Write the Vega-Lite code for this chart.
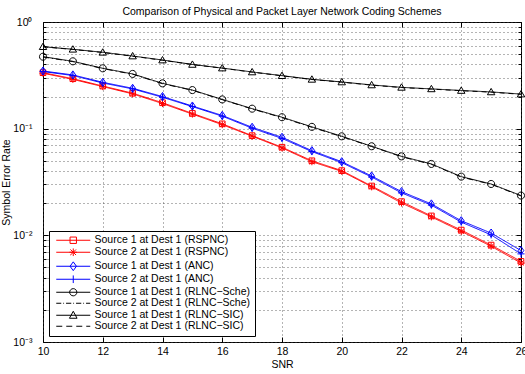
{
  "$schema": "https://vega.github.io/schema/vega-lite/v6.json",
  "width": 478,
  "height": 320,
  "autosize": {"type": "none"},
  "padding": {"left": 43, "top": 22, "right": 4, "bottom": 32},
  "title": {"text": "Comparison of Physical and Packet Layer Network Coding Schemes", "fontSize": 10.5, "fontWeight": "normal", "color": "black", "offset": 0, "font": "Liberation Sans"},
  "config": {
    "font": "Liberation Sans",
    "view": {"stroke": "black", "strokeWidth": 1},
    "axis": {"domainColor": "black", "tickColor": "black", "labelColor": "black", "titleColor": "black", "labelFontSize": 10.5, "titleFontSize": 10.5, "titleFontWeight": "normal", "gridColor": "#444", "gridDash": [1, 3], "gridOpacity": 0.8, "domain": false}
  },
  "datasets": {
    "ser": [
      {"SNR": 10, "series": "Source 1 at Dest 1 (RSPNC)", "SER": 0.335},
      {"SNR": 11, "series": "Source 1 at Dest 1 (RSPNC)", "SER": 0.294},
      {"SNR": 12, "series": "Source 1 at Dest 1 (RSPNC)", "SER": 0.251},
      {"SNR": 13, "series": "Source 1 at Dest 1 (RSPNC)", "SER": 0.215},
      {"SNR": 14, "series": "Source 1 at Dest 1 (RSPNC)", "SER": 0.175},
      {"SNR": 15, "series": "Source 1 at Dest 1 (RSPNC)", "SER": 0.139},
      {"SNR": 16, "series": "Source 1 at Dest 1 (RSPNC)", "SER": 0.111},
      {"SNR": 17, "series": "Source 1 at Dest 1 (RSPNC)", "SER": 0.086},
      {"SNR": 18, "series": "Source 1 at Dest 1 (RSPNC)", "SER": 0.067},
      {"SNR": 19, "series": "Source 1 at Dest 1 (RSPNC)", "SER": 0.05},
      {"SNR": 20, "series": "Source 1 at Dest 1 (RSPNC)", "SER": 0.0404},
      {"SNR": 21, "series": "Source 1 at Dest 1 (RSPNC)", "SER": 0.029},
      {"SNR": 22, "series": "Source 1 at Dest 1 (RSPNC)", "SER": 0.0207},
      {"SNR": 23, "series": "Source 1 at Dest 1 (RSPNC)", "SER": 0.0152},
      {"SNR": 24, "series": "Source 1 at Dest 1 (RSPNC)", "SER": 0.0112},
      {"SNR": 25, "series": "Source 1 at Dest 1 (RSPNC)", "SER": 0.0081},
      {"SNR": 26, "series": "Source 1 at Dest 1 (RSPNC)", "SER": 0.0057},
      {"SNR": 10, "series": "Source 2 at Dest 1 (RSPNC)", "SER": 0.331},
      {"SNR": 11, "series": "Source 2 at Dest 1 (RSPNC)", "SER": 0.29},
      {"SNR": 12, "series": "Source 2 at Dest 1 (RSPNC)", "SER": 0.248},
      {"SNR": 13, "series": "Source 2 at Dest 1 (RSPNC)", "SER": 0.212},
      {"SNR": 14, "series": "Source 2 at Dest 1 (RSPNC)", "SER": 0.172},
      {"SNR": 15, "series": "Source 2 at Dest 1 (RSPNC)", "SER": 0.137},
      {"SNR": 16, "series": "Source 2 at Dest 1 (RSPNC)", "SER": 0.109},
      {"SNR": 17, "series": "Source 2 at Dest 1 (RSPNC)", "SER": 0.085},
      {"SNR": 18, "series": "Source 2 at Dest 1 (RSPNC)", "SER": 0.066},
      {"SNR": 19, "series": "Source 2 at Dest 1 (RSPNC)", "SER": 0.049},
      {"SNR": 20, "series": "Source 2 at Dest 1 (RSPNC)", "SER": 0.0398},
      {"SNR": 21, "series": "Source 2 at Dest 1 (RSPNC)", "SER": 0.0285},
      {"SNR": 22, "series": "Source 2 at Dest 1 (RSPNC)", "SER": 0.0201},
      {"SNR": 23, "series": "Source 2 at Dest 1 (RSPNC)", "SER": 0.0149},
      {"SNR": 24, "series": "Source 2 at Dest 1 (RSPNC)", "SER": 0.0109},
      {"SNR": 25, "series": "Source 2 at Dest 1 (RSPNC)", "SER": 0.0079},
      {"SNR": 26, "series": "Source 2 at Dest 1 (RSPNC)", "SER": 0.0055},
      {"SNR": 10, "series": "Source 1 at Dest 1 (ANC)", "SER": 0.347},
      {"SNR": 11, "series": "Source 1 at Dest 1 (ANC)", "SER": 0.319},
      {"SNR": 12, "series": "Source 1 at Dest 1 (ANC)", "SER": 0.272},
      {"SNR": 13, "series": "Source 1 at Dest 1 (ANC)", "SER": 0.239},
      {"SNR": 14, "series": "Source 1 at Dest 1 (ANC)", "SER": 0.2},
      {"SNR": 15, "series": "Source 1 at Dest 1 (ANC)", "SER": 0.163},
      {"SNR": 16, "series": "Source 1 at Dest 1 (ANC)", "SER": 0.133},
      {"SNR": 17, "series": "Source 1 at Dest 1 (ANC)", "SER": 0.103},
      {"SNR": 18, "series": "Source 1 at Dest 1 (ANC)", "SER": 0.083},
      {"SNR": 19, "series": "Source 1 at Dest 1 (ANC)", "SER": 0.0622},
      {"SNR": 20, "series": "Source 1 at Dest 1 (ANC)", "SER": 0.049},
      {"SNR": 21, "series": "Source 1 at Dest 1 (ANC)", "SER": 0.036},
      {"SNR": 22, "series": "Source 1 at Dest 1 (ANC)", "SER": 0.0257},
      {"SNR": 23, "series": "Source 1 at Dest 1 (ANC)", "SER": 0.0197},
      {"SNR": 24, "series": "Source 1 at Dest 1 (ANC)", "SER": 0.0137},
      {"SNR": 25, "series": "Source 1 at Dest 1 (ANC)", "SER": 0.0105},
      {"SNR": 26, "series": "Source 1 at Dest 1 (ANC)", "SER": 0.0072},
      {"SNR": 10, "series": "Source 2 at Dest 1 (ANC)", "SER": 0.343},
      {"SNR": 11, "series": "Source 2 at Dest 1 (ANC)", "SER": 0.315},
      {"SNR": 12, "series": "Source 2 at Dest 1 (ANC)", "SER": 0.268},
      {"SNR": 13, "series": "Source 2 at Dest 1 (ANC)", "SER": 0.236},
      {"SNR": 14, "series": "Source 2 at Dest 1 (ANC)", "SER": 0.197},
      {"SNR": 15, "series": "Source 2 at Dest 1 (ANC)", "SER": 0.161},
      {"SNR": 16, "series": "Source 2 at Dest 1 (ANC)", "SER": 0.131},
      {"SNR": 17, "series": "Source 2 at Dest 1 (ANC)", "SER": 0.101},
      {"SNR": 18, "series": "Source 2 at Dest 1 (ANC)", "SER": 0.081},
      {"SNR": 19, "series": "Source 2 at Dest 1 (ANC)", "SER": 0.061},
      {"SNR": 20, "series": "Source 2 at Dest 1 (ANC)", "SER": 0.048},
      {"SNR": 21, "series": "Source 2 at Dest 1 (ANC)", "SER": 0.0352},
      {"SNR": 22, "series": "Source 2 at Dest 1 (ANC)", "SER": 0.025},
      {"SNR": 23, "series": "Source 2 at Dest 1 (ANC)", "SER": 0.0192},
      {"SNR": 24, "series": "Source 2 at Dest 1 (ANC)", "SER": 0.0133},
      {"SNR": 25, "series": "Source 2 at Dest 1 (ANC)", "SER": 0.0101},
      {"SNR": 26, "series": "Source 2 at Dest 1 (ANC)", "SER": 0.0067},
      {"SNR": 10, "series": "Source 1 at Dest 1 (RLNC−Sche)", "SER": 0.473},
      {"SNR": 11, "series": "Source 1 at Dest 1 (RLNC−Sche)", "SER": 0.428},
      {"SNR": 12, "series": "Source 1 at Dest 1 (RLNC−Sche)", "SER": 0.368},
      {"SNR": 13, "series": "Source 1 at Dest 1 (RLNC−Sche)", "SER": 0.326},
      {"SNR": 14, "series": "Source 1 at Dest 1 (RLNC−Sche)", "SER": 0.266},
      {"SNR": 15, "series": "Source 1 at Dest 1 (RLNC−Sche)", "SER": 0.23},
      {"SNR": 16, "series": "Source 1 at Dest 1 (RLNC−Sche)", "SER": 0.188},
      {"SNR": 17, "series": "Source 1 at Dest 1 (RLNC−Sche)", "SER": 0.154},
      {"SNR": 18, "series": "Source 1 at Dest 1 (RLNC−Sche)", "SER": 0.128},
      {"SNR": 19, "series": "Source 1 at Dest 1 (RLNC−Sche)", "SER": 0.104},
      {"SNR": 20, "series": "Source 1 at Dest 1 (RLNC−Sche)", "SER": 0.0848},
      {"SNR": 21, "series": "Source 1 at Dest 1 (RLNC−Sche)", "SER": 0.0684},
      {"SNR": 22, "series": "Source 1 at Dest 1 (RLNC−Sche)", "SER": 0.055},
      {"SNR": 23, "series": "Source 1 at Dest 1 (RLNC−Sche)", "SER": 0.0467},
      {"SNR": 24, "series": "Source 1 at Dest 1 (RLNC−Sche)", "SER": 0.0355},
      {"SNR": 25, "series": "Source 1 at Dest 1 (RLNC−Sche)", "SER": 0.0303},
      {"SNR": 26, "series": "Source 1 at Dest 1 (RLNC−Sche)", "SER": 0.0236},
      {"SNR": 10, "series": "Source 2 at Dest 1 (RLNC−Sche)", "SER": 0.47},
      {"SNR": 11, "series": "Source 2 at Dest 1 (RLNC−Sche)", "SER": 0.425},
      {"SNR": 12, "series": "Source 2 at Dest 1 (RLNC−Sche)", "SER": 0.366},
      {"SNR": 13, "series": "Source 2 at Dest 1 (RLNC−Sche)", "SER": 0.324},
      {"SNR": 14, "series": "Source 2 at Dest 1 (RLNC−Sche)", "SER": 0.264},
      {"SNR": 15, "series": "Source 2 at Dest 1 (RLNC−Sche)", "SER": 0.229},
      {"SNR": 16, "series": "Source 2 at Dest 1 (RLNC−Sche)", "SER": 0.187},
      {"SNR": 17, "series": "Source 2 at Dest 1 (RLNC−Sche)", "SER": 0.153},
      {"SNR": 18, "series": "Source 2 at Dest 1 (RLNC−Sche)", "SER": 0.127},
      {"SNR": 19, "series": "Source 2 at Dest 1 (RLNC−Sche)", "SER": 0.103},
      {"SNR": 20, "series": "Source 2 at Dest 1 (RLNC−Sche)", "SER": 0.0842},
      {"SNR": 21, "series": "Source 2 at Dest 1 (RLNC−Sche)", "SER": 0.068},
      {"SNR": 22, "series": "Source 2 at Dest 1 (RLNC−Sche)", "SER": 0.0546},
      {"SNR": 23, "series": "Source 2 at Dest 1 (RLNC−Sche)", "SER": 0.0463},
      {"SNR": 24, "series": "Source 2 at Dest 1 (RLNC−Sche)", "SER": 0.0352},
      {"SNR": 25, "series": "Source 2 at Dest 1 (RLNC−Sche)", "SER": 0.0301},
      {"SNR": 26, "series": "Source 2 at Dest 1 (RLNC−Sche)", "SER": 0.0234},
      {"SNR": 10, "series": "Source 1 at Dest 1 (RLNC−SIC)", "SER": 0.587},
      {"SNR": 11, "series": "Source 1 at Dest 1 (RLNC−SIC)", "SER": 0.555},
      {"SNR": 12, "series": "Source 1 at Dest 1 (RLNC−SIC)", "SER": 0.52},
      {"SNR": 13, "series": "Source 1 at Dest 1 (RLNC−SIC)", "SER": 0.48},
      {"SNR": 14, "series": "Source 1 at Dest 1 (RLNC−SIC)", "SER": 0.44},
      {"SNR": 15, "series": "Source 1 at Dest 1 (RLNC−SIC)", "SER": 0.4},
      {"SNR": 16, "series": "Source 1 at Dest 1 (RLNC−SIC)", "SER": 0.37},
      {"SNR": 17, "series": "Source 1 at Dest 1 (RLNC−SIC)", "SER": 0.34},
      {"SNR": 18, "series": "Source 1 at Dest 1 (RLNC−SIC)", "SER": 0.314},
      {"SNR": 19, "series": "Source 1 at Dest 1 (RLNC−SIC)", "SER": 0.29},
      {"SNR": 20, "series": "Source 1 at Dest 1 (RLNC−SIC)", "SER": 0.274},
      {"SNR": 21, "series": "Source 1 at Dest 1 (RLNC−SIC)", "SER": 0.257},
      {"SNR": 22, "series": "Source 1 at Dest 1 (RLNC−SIC)", "SER": 0.244},
      {"SNR": 23, "series": "Source 1 at Dest 1 (RLNC−SIC)", "SER": 0.236},
      {"SNR": 24, "series": "Source 1 at Dest 1 (RLNC−SIC)", "SER": 0.228},
      {"SNR": 25, "series": "Source 1 at Dest 1 (RLNC−SIC)", "SER": 0.221},
      {"SNR": 26, "series": "Source 1 at Dest 1 (RLNC−SIC)", "SER": 0.211},
      {"SNR": 10, "series": "Source 2 at Dest 1 (RLNC−SIC)", "SER": 0.585},
      {"SNR": 11, "series": "Source 2 at Dest 1 (RLNC−SIC)", "SER": 0.553},
      {"SNR": 12, "series": "Source 2 at Dest 1 (RLNC−SIC)", "SER": 0.518},
      {"SNR": 13, "series": "Source 2 at Dest 1 (RLNC−SIC)", "SER": 0.478},
      {"SNR": 14, "series": "Source 2 at Dest 1 (RLNC−SIC)", "SER": 0.438},
      {"SNR": 15, "series": "Source 2 at Dest 1 (RLNC−SIC)", "SER": 0.399},
      {"SNR": 16, "series": "Source 2 at Dest 1 (RLNC−SIC)", "SER": 0.369},
      {"SNR": 17, "series": "Source 2 at Dest 1 (RLNC−SIC)", "SER": 0.339},
      {"SNR": 18, "series": "Source 2 at Dest 1 (RLNC−SIC)", "SER": 0.313},
      {"SNR": 19, "series": "Source 2 at Dest 1 (RLNC−SIC)", "SER": 0.289},
      {"SNR": 20, "series": "Source 2 at Dest 1 (RLNC−SIC)", "SER": 0.273},
      {"SNR": 21, "series": "Source 2 at Dest 1 (RLNC−SIC)", "SER": 0.256},
      {"SNR": 22, "series": "Source 2 at Dest 1 (RLNC−SIC)", "SER": 0.243},
      {"SNR": 23, "series": "Source 2 at Dest 1 (RLNC−SIC)", "SER": 0.235},
      {"SNR": 24, "series": "Source 2 at Dest 1 (RLNC−SIC)", "SER": 0.227},
      {"SNR": 25, "series": "Source 2 at Dest 1 (RLNC−SIC)", "SER": 0.22},
      {"SNR": 26, "series": "Source 2 at Dest 1 (RLNC−SIC)", "SER": 0.21}
    ]
  },
  "data": {"name": "ser"},
  "resolve": {"scale": {"shape": "independent", "color": "independent"}, "axis": {"x": "independent", "y": "independent"}},
  "layer": [
    {
      "mark": {"type": "line", "strokeWidth": 1, "clip": true},
      "encoding": {
        "x": {"field": "SNR", "type": "quantitative", "scale": {"domain": [10, 26], "nice": false, "zero": false},
          "axis": {"orient": "bottom", "values": [10, 12, 14, 16, 18, 20, 22, 24, 26], "format": "d", "title": "SNR", "titlePadding": 3, "labelPadding": 9, "tickSize": -5, "grid": true, "labelFlush": false}},
        "y": {"field": "SER", "type": "quantitative", "scale": {"type": "log", "domain": [0.001, 1], "nice": false},
          "axis": {"orient": "left", "title": "Symbol Error Rate", "titlePadding": 1, "labelPadding": 16, "grid": true, "labelFlush": false,
            "values": [0.001, 0.002, 0.003, 0.004, 0.005, 0.006, 0.007, 0.008, 0.009, 0.01, 0.02, 0.03, 0.04, 0.05, 0.06, 0.07, 0.08, 0.09, 0.1, 0.2, 0.3, 0.4, 0.5, 0.6, 0.7, 0.8, 0.9, 1],
            "labelExpr": "datum.value == 1 ? '10⁰' : datum.value == 0.1 ? '10⁻¹' : datum.value == 0.01 ? '10⁻²' : datum.value == 0.001 ? '10⁻³' : ''",
            "tickSize": {"condition": {"test": "datum.value == 1 || datum.value == 0.1 || datum.value == 0.01 || datum.value == 0.001", "value": -5}, "value": -3}}},
        "color": {"field": "series", "type": "nominal", "legend": null,
          "scale": {"domain": ["Source 1 at Dest 1 (RSPNC)", "Source 2 at Dest 1 (RSPNC)", "Source 1 at Dest 1 (ANC)", "Source 2 at Dest 1 (ANC)", "Source 1 at Dest 1 (RLNC−Sche)", "Source 2 at Dest 1 (RLNC−Sche)", "Source 1 at Dest 1 (RLNC−SIC)", "Source 2 at Dest 1 (RLNC−SIC)"],
            "range": ["#ff0000", "#ff0000", "#0000ff", "#0000ff", "#000000", "#000000", "#000000", "#000000"]}},
        "strokeDash": {"field": "series", "type": "nominal", "legend": null,
          "scale": {"domain": ["Source 1 at Dest 1 (RSPNC)", "Source 2 at Dest 1 (RSPNC)", "Source 1 at Dest 1 (ANC)", "Source 2 at Dest 1 (ANC)", "Source 1 at Dest 1 (RLNC−Sche)", "Source 2 at Dest 1 (RLNC−Sche)", "Source 1 at Dest 1 (RLNC−SIC)", "Source 2 at Dest 1 (RLNC−SIC)"],
            "range": [[1, 0], [1, 0], [1, 0], [1, 0], [1, 0], [6, 3, 1, 3], [1, 0], [5, 4]]}},
        "order": {"field": "SNR"}
      }
    },
    {
      "transform": [{"filter": "datum.series != 'Source 2 at Dest 1 (RLNC−Sche)' && datum.series != 'Source 2 at Dest 1 (RLNC−SIC)'"}],
      "mark": {"type": "point", "filled": false, "strokeWidth": 1, "size": 50, "opacity": 1},
      "encoding": {
        "x": {"field": "SNR", "type": "quantitative", "scale": {"domain": [10, 26], "nice": false, "zero": false},
          "axis": {"orient": "top", "values": [10, 12, 14, 16, 18, 20, 22, 24, 26], "labels": false, "title": null, "tickSize": -5, "grid": false}},
        "y": {"field": "SER", "type": "quantitative", "scale": {"type": "log", "domain": [0.001, 1], "nice": false},
          "axis": {"orient": "right", "labels": false, "title": null, "grid": false,
            "values": [0.001, 0.002, 0.003, 0.004, 0.005, 0.006, 0.007, 0.008, 0.009, 0.01, 0.02, 0.03, 0.04, 0.05, 0.06, 0.07, 0.08, 0.09, 0.1, 0.2, 0.3, 0.4, 0.5, 0.6, 0.7, 0.8, 0.9, 1],
            "tickSize": {"condition": {"test": "datum.value == 1 || datum.value == 0.1 || datum.value == 0.01 || datum.value == 0.001", "value": -5}, "value": -3}}},
        "color": {"field": "series", "type": "nominal", "legend": null,
          "scale": {"domain": ["Source 1 at Dest 1 (RSPNC)", "Source 2 at Dest 1 (RSPNC)", "Source 1 at Dest 1 (ANC)", "Source 2 at Dest 1 (ANC)", "Source 1 at Dest 1 (RLNC−Sche)", "Source 1 at Dest 1 (RLNC−SIC)"],
            "range": ["#ff0000", "#ff0000", "#0000ff", "#0000ff", "#000000", "#000000"]}},
        "shape": {"field": "series", "type": "nominal", "legend": null,
          "scale": {"domain": ["Source 1 at Dest 1 (RSPNC)", "Source 2 at Dest 1 (RSPNC)", "Source 1 at Dest 1 (ANC)", "Source 2 at Dest 1 (ANC)", "Source 1 at Dest 1 (RLNC−Sche)", "Source 1 at Dest 1 (RLNC−SIC)"],
            "range": ["M-0.8,-0.8H0.8V0.8H-0.8Z", "M-1,0H1M0,-1V1M-0.7,-0.7L0.7,0.7M-0.7,0.7L0.7,-0.7", "M0,-1.15L0.8,0L0,1.15L-0.8,0Z", "M-1,0H1M0,-1V1", "M1,0A1,1,0,1,1,-1,0A1,1,0,1,1,1,0Z", "M0,-1L1.05,0.8H-1.05Z"]}}
      }
    },
    {
      "transform": [{"filter": "datum.SNR > 1000"}],
      "mark": {"type": "point", "filled": false, "strokeWidth": 1, "opacity": 1},
      "encoding": {
        "x": {"field": "SNR", "type": "quantitative", "axis": null},
        "y": {"field": "SER", "type": "quantitative", "axis": null},
        "color": {"field": "series", "type": "nominal",
          "scale": {"domain": ["Source 1 at Dest 1 (RSPNC)", "Source 2 at Dest 1 (RSPNC)", "Source 1 at Dest 1 (ANC)", "Source 2 at Dest 1 (ANC)", "Source 1 at Dest 1 (RLNC−Sche)", "Source 2 at Dest 1 (RLNC−Sche)", "Source 1 at Dest 1 (RLNC−SIC)", "Source 2 at Dest 1 (RLNC−SIC)"],
            "range": ["#ff0000", "#ff0000", "#0000ff", "#0000ff", "#000000", "#000000", "#000000", "#000000"]},
          "legend": {"title": null, "orient": "bottom-left", "offset": 6, "labelFontSize": 10.5, "labelColor": "black", "padding": 4, "rowPadding": 0, "symbolSize": 64, "symbolStrokeWidth": 1, "symbolOffset": 15, "labelOffset": 16, "strokeColor": "black", "fillColor": "white", "labelLimit": 300}},
        "shape": {"field": "series", "type": "nominal",
          "scale": {"domain": ["Source 1 at Dest 1 (RSPNC)", "Source 2 at Dest 1 (RSPNC)", "Source 1 at Dest 1 (ANC)", "Source 2 at Dest 1 (ANC)", "Source 1 at Dest 1 (RLNC−Sche)", "Source 2 at Dest 1 (RLNC−Sche)", "Source 1 at Dest 1 (RLNC−SIC)", "Source 2 at Dest 1 (RLNC−SIC)"],
            "range": [
              "M-4.25,0H4.25M-0.8,-0.8H0.8V0.8H-0.8Z",
              "M-4.25,0H4.25M-0.95,0H0.95M0,-0.95V0.95M-0.7,-0.7L0.7,0.7M-0.7,0.7L0.7,-0.7",
              "M-4.25,0H4.25M0,-1.1L0.8,0L0,1.1L-0.8,0Z",
              "M-4.25,0H4.25M0,-0.95V0.95",
              "M-4.25,0H4.25M0.9,0A0.9,0.9,0,1,1,-0.9,0A0.9,0.9,0,1,1,0.9,0Z",
              "M-4.25,0H-3M-2.5,0H-2.3M-1.8,0H-0.5M0,0H0.2M0.7,0H2M2.5,0H2.7M3.2,0H4.25",
              "M-4.25,0H4.25M0,-1L0.95,0.75H-0.95Z",
              "M-4.25,0H-2.75M-1.75,0H-0.25M0.75,0H2.25M3.25,0H4.25"
            ]},
          "legend": {"title": null, "orient": "bottom-left", "offset": 6, "labelFontSize": 10.5, "labelColor": "black", "padding": 4, "rowPadding": 0, "symbolSize": 64, "symbolStrokeWidth": 1, "symbolOffset": 15, "labelOffset": 16, "strokeColor": "black", "fillColor": "white", "labelLimit": 300}}
      }
    }
  ]
}
